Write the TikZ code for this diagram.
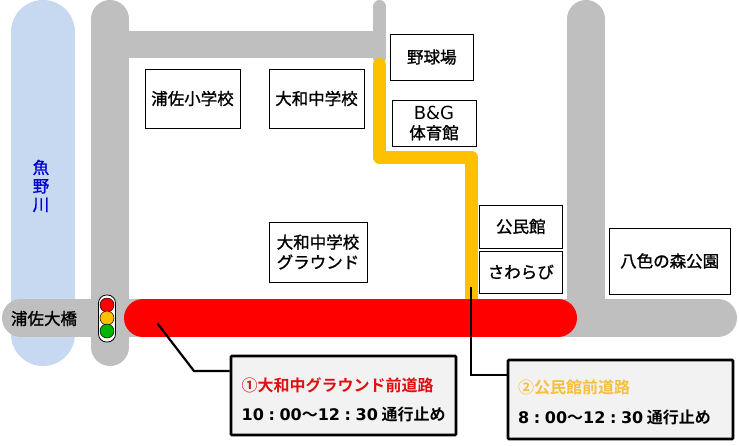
\documentclass[tikz,border=0pt]{standalone}
\usepackage{fontspec}
\setmainfont{Noto Sans CJK JP}[FakeBold=1.2]
\newfontfamily\jpbold{Noto Sans CJK JP Bold}
\newfontfamily\latinbold{DejaVu Sans Bold}
\newfontfamily\latinreg{DejaVu Sans}
\definecolor{roadgray}{HTML}{BFBFBF}
\definecolor{riverblue}{HTML}{C6D9F1}
\definecolor{amber}{HTML}{FFC000}
\definecolor{panelgray}{HTML}{F2F2F2}
\definecolor{rivertext}{HTML}{0000CC}
\definecolor{redtext}{HTML}{E01010}
\definecolor{ambertext}{HTML}{F5C040}
\definecolor{lampgreen}{HTML}{00B400}
\newcommand{\lb}[1]{{\latinbold #1}}
\newcommand{\cln}{\lb{\hspace{4.6pt}:\hspace{4.6pt}}}
\tikzset{
  road/.style={line width=38pt,draw=roadgray,line cap=round},
  thinroad/.style={line width=13pt,draw=roadgray,line cap=round},
  closedy/.style={line width=13pt,draw=amber,line cap=round,line join=round},
  closedr/.style={line width=38pt,draw=red,line cap=round},
  bldg/.style={draw=black,line width=0.9pt,fill=white,align=center,inner sep=0pt,font=\fontsize{16.5}{20}\selectfont},
  panel/.style={draw=black,line width=2.8pt,fill=panelgray,rounded corners=1pt,inner sep=0pt},
  lamp/.style={circle,draw=black,line width=0.5pt,minimum size=14pt,inner sep=0pt},
  leader/.style={draw=black,line width=2.2pt,line join=miter},
  plain/.style={inner sep=0pt,font=\fontsize{16.5}{20}\selectfont},
  paneltext/.style={inner sep=0pt,anchor=base west,font=\fontsize{16}{20}\selectfont\jpbold},
}
\begin{document}
\begin{tikzpicture}[x=1pt,y=-1pt]
\useasboundingbox (0,0) rectangle (739,445);
% river
\draw[line width=64pt,draw=riverblue,line cap=round] (43,32) -- (43,334);
% roads
\fill[roadgray] (125,31) rectangle (375,58);
\draw[thinroad] (379.5,6.5) -- (379.5,58);
\draw[road] (110,19) -- (110,347);
\draw[road] (586,19) -- (586,318);
\draw[road] (21,318) -- (718,318);
% closed sections
\draw[closedy] (379.5,64.5) -- (379.5,157) -- (471.5,157) -- (471.5,310);
\draw[closedr] (143,318) -- (558,318);
% traffic light
\node[draw=black,line width=0.8pt,fill=white,rounded corners=8pt,minimum width=17pt,minimum height=47pt,inner sep=0pt] (signal) at (107,318.5) {};
\node[lamp,fill=red] (lampr) at (107,305) {};
\node[lamp,fill=amber] (lampy) at (107,318) {};
\node[lamp,fill=lampgreen] (lampg) at (107,331) {};
% labels
\node[plain,text=rivertext,align=center] (river) at (41,186) {魚\\[-1.5pt]野\\[-1.5pt]川};
\node[plain] (bridge) at (44,318.5) {浦佐大橋};
% buildings
\node[bldg,minimum width=95pt,minimum height=59pt] (b1) at (192.5,98.5) {浦佐小学校};
\node[bldg,minimum width=95pt,minimum height=59pt] (b2) at (316.5,98.5) {大和中学校};
\node[bldg,minimum width=83pt,minimum height=46pt] (b3) at (431.8,57) {野球場};
\node[bldg,minimum width=84pt,minimum height=46pt] (b4) at (434,123) {\fontsize{18}{20}\latinreg B\&G\\\fontsize{16.5}{20}\selectfont\rmfamily 体育館};
\node[bldg,minimum width=98pt,minimum height=60pt] (b5) at (318,252) {大和中学校\\グラウンド};
\node[bldg,minimum width=83.5pt,minimum height=43pt] (b6) at (520.8,226.5) {公民館};
\node[bldg,minimum width=83.5pt,minimum height=42pt] (b7) at (520.8,272) {さわらび};
\node[bldg,minimum width=121.5pt,minimum height=66pt] (b8) at (669.7,261) {八色の森公園};
% callouts
\node[panel,minimum width=225pt,minimum height=79pt] (box1) at (343.5,395.5) {};
\node[panel,minimum width=225pt,minimum height=79pt] (box2) at (620.5,399.5) {};
\node[paneltext,text=redtext] (t1a) at (241.5,391) {①大和中グラウンド前道路};
\node[paneltext] (t1b) at (241.5,420) {\lb{10}\cln\lb{00}～\lb{12}\cln\lb{30} 通行止め};
\node[paneltext,text=ambertext] (t2a) at (518,393) {②公民館前道路};
\node[paneltext] (t2b) at (518,423) {\lb{8}\cln\lb{00}～\lb{12}\cln\lb{30} 通行止め};
% leaders
\coordinate (c1a) at (157.5,323.5);
\coordinate (c1b) at (194,371);
\coordinate (c2a) at (471,287);
\coordinate (c2b) at (471,375);
\draw[leader] (c1a) -- (c1b) -- (box1.west |- c1b);
\draw[leader] (c2a) -- (c2b) -- (box2.west |- c2b);
\end{tikzpicture}
\end{document}
